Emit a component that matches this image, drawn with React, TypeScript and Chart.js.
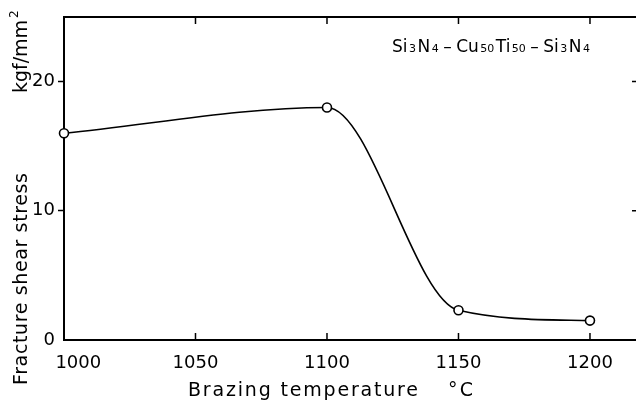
import React, { useEffect, useRef } from 'react';
import { Chart, registerables } from 'chart.js';

Chart.register(...registerables);

// ---- data ----
const temperatures = [1000, 1100, 1150, 1200];
const shearStress = [16.0, 18.0, 2.3, 1.5];
const xTickValues = [1000, 1050, 1100, 1150, 1200];
const yTickValues = [0, 10, 20];
const xMin = 1000;
const xMax = 1217.5;
const yMin = 0;
const yMax = 25;
const xTitle = 'Brazing temperature';
const xUnit = '°C';
const yTitle = 'Fracture shear stress';
const yUnit = 'kgf/mm';
const yUnitSup = '2';
const specimenParts: [string, boolean][] = [
  ['Si', false], ['3', true], ['N', false], ['4', true], ['–', false],
  ['Cu', false], ['50', true], ['Ti', false], ['50', true], ['–', false],
  ['Si', false], ['3', true], ['N', false], ['4', true],
];

const FONT = 'DejaVu Sans';

function drawSpaced(ctx: CanvasRenderingContext2D, text: string, x: number, y: number, width: number) {
  (ctx as any).letterSpacing = '0px';
  const w = ctx.measureText(text).width;
  const n = Array.from(text).length;
  const sp = n > 1 ? (width - w) / (n - 1) : 0;
  (ctx as any).letterSpacing = sp + 'px';
  ctx.fillText(text, x, y);
  (ctx as any).letterSpacing = '0px';
}

const decor = {
  id: 'decor',
  beforeDatasetsDraw(chart: any) {
    const ctx: CanvasRenderingContext2D = chart.ctx;
    const { left, right, top, bottom } = chart.chartArea;
    const xs = chart.scales.x;
    const ys = chart.scales.y;
    ctx.save();
    ctx.strokeStyle = '#000';
    // top frame line
    ctx.lineWidth = 2;
    ctx.beginPath();
    ctx.moveTo(left - 1, top);
    ctx.lineTo(right, top);
    ctx.stroke();
    // inner ticks
    ctx.lineWidth = 1.5;
    ctx.beginPath();
    xTickValues.forEach((v) => {
      if (v === xMin) return;
      const px = xs.getPixelForValue(v);
      ctx.moveTo(px, bottom);
      ctx.lineTo(px, bottom - 7);
      ctx.moveTo(px, top);
      ctx.lineTo(px, top + 7);
    });
    yTickValues.forEach((v) => {
      if (v === yMin) return;
      const py = ys.getPixelForValue(v);
      ctx.moveTo(right, py);
      ctx.lineTo(right - 4, py);
    });
    ctx.stroke();
    ctx.restore();
  },
  afterDraw(chart: any) {
    const ctx: CanvasRenderingContext2D = chart.ctx;
    ctx.save();
    ctx.fillStyle = '#000';
    ctx.textBaseline = 'alphabetic';
    ctx.textAlign = 'left';

    // x title
    ctx.font = `19px "${FONT}"`;
    drawSpaced(ctx, xTitle, 188, 396, 230);
    drawSpaced(ctx, xUnit, 448, 396, 25);

    // y title (rotated)
    ctx.save();
    ctx.translate(27, 385);
    ctx.rotate(-Math.PI / 2);
    ctx.font = `19px "${FONT}"`;
    drawSpaced(ctx, yTitle, 0, 0, 212);
    drawSpaced(ctx, yUnit, 292, 0, 73);
    ctx.font = `12px "${FONT}"`;
    ctx.fillText(yUnitSup, 367, -9);
    ctx.restore();

    // specimen label
    const mainFont = `17px "${FONT}"`;
    const subFont = `11px "${FONT}"`;
    const baseGap = 1.5;
    let total = 0;
    let dashSides = 0;
    const widths = specimenParts.map(([t, sub]) => {
      ctx.font = sub ? subFont : mainFont;
      const w = ctx.measureText(t).width;
      total += w;
      if (t === '–') dashSides += 2;
      return w;
    });
    const targetW = 198;
    total += baseGap * (specimenParts.length - 1);
    const dashGap = Math.max(0, (targetW - total) / dashSides);
    let x = 392;
    specimenParts.forEach(([t, sub], i) => {
      ctx.font = sub ? subFont : mainFont;
      if (t === '–') x += dashGap;
      ctx.fillText(t, x, 52);
      x += widths[i] + baseGap;
      if (t === '–') x += dashGap;
    });
    ctx.restore();
  },
};

export default function App() {
  const ref = useRef<HTMLCanvasElement | null>(null);
  useEffect(() => {
    if (!ref.current) return;
    const chart = new Chart(ref.current, {
      type: 'line',
      data: {
        datasets: [
          {
            data: temperatures.map((t, i) => ({ x: t, y: shearStress[i] })),
            borderColor: '#000',
            borderWidth: 1.6,
            cubicInterpolationMode: 'monotone',
            pointRadius: 4.5,
            pointBorderWidth: 1.6,
            pointBackgroundColor: '#fff',
            pointBorderColor: '#000',
            fill: false,
            clip: false as any,
          } as any,
        ],
      },
      options: {
        animation: false,
        responsive: false,
        layout: { autoPadding: false, padding: { top: 17, right: 0, left: 0, bottom: 0 } },
        plugins: { legend: { display: false }, tooltip: { enabled: false } },
        scales: {
          x: {
            type: 'linear',
            position: 'bottom',
            min: xMin,
            max: xMax,
            afterBuildTicks: (s: any) => {
              s.ticks = xTickValues.map((v) => ({ value: v }));
            },
            afterFit: (s: any) => {
              s.height = 62;
              s.paddingRight = 0;
              s.paddingLeft = 0;
            },
            grid: { display: false },
            border: { display: true, color: '#000', width: 2 },
            ticks: {
              color: '#000',
              font: { family: FONT, size: 18 },
              padding: 5,
              maxRotation: 0,
              autoSkip: false,
              callback: (v: any) => (v === xMin ? '\u2007\u2007 ' + v : String(v)),
            },
          },
          y: {
            type: 'linear',
            min: yMin,
            max: yMax,
            afterBuildTicks: (s: any) => {
              s.ticks = yTickValues.map((v) => ({ value: v }));
            },
            afterFit: (s: any) => {
              s.width = 64;
            },
            grid: {
              drawOnChartArea: false,
              drawTicks: true,
              tickLength: 6,
              tickWidth: 1.5,
              tickColor: (c: any) => (c.tick && c.tick.value === 0 ? 'rgba(0,0,0,0)' : '#000'),
            },
            border: { display: true, color: '#000', width: 2 },
            ticks: {
              color: '#000',
              font: { family: FONT, size: 18 },
              padding: 3,
            },
          },
        },
      },
      plugins: [decor],
    });
    return () => chart.destroy();
  }, []);
  return (
    <div style={{ position: 'absolute', left: 0, top: 0, width: 636, height: 402, background: '#fff' }}>
      <canvas ref={ref} width={636} height={402} style={{ display: 'block' }} />
    </div>
  );
}
